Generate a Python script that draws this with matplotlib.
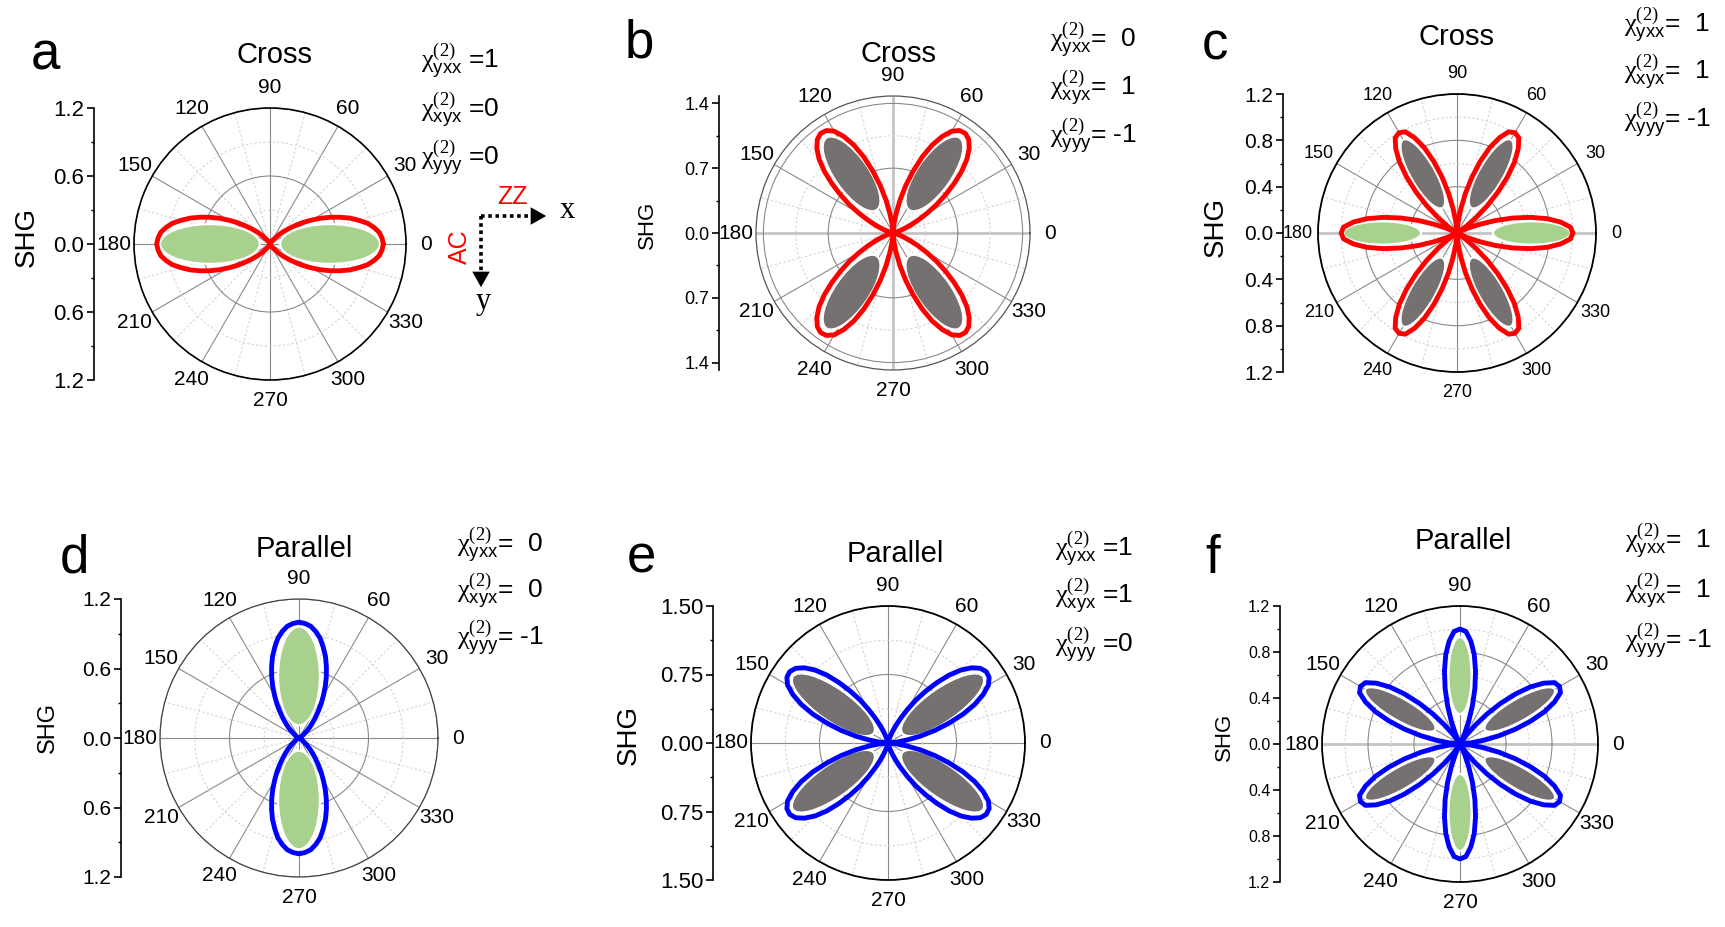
import numpy as np
import matplotlib
matplotlib.use("Agg")
import matplotlib.pyplot as plt
from matplotlib.patches import Ellipse, FancyArrowPatch
from matplotlib.lines import Line2D
from matplotlib.transforms import Affine2D

plt.rcParams['font.family'] = ['Liberation Sans', 'DejaVu Sans']
plt.rcParams['mathtext.fontset'] = 'custom'
plt.rcParams['mathtext.rm'] = 'Liberation Serif'
plt.rcParams['mathtext.it'] = 'Liberation Serif:italic'
plt.rcParams['mathtext.sf'] = 'Liberation Sans'
plt.rcParams['mathtext.bf'] = 'Liberation Serif:bold'

# ------------------------------------------------------------------ data
ANGLE_DEG = np.arange(0, 361, 3)          # polarization angle samples (deg)
THETA_TICKS = [0, 30, 60, 90, 120, 150, 180, 210, 240, 270, 300, 330]
THETA_LABELS = ['0', '30', '60', '90', '120', '150', '180', '210', '240', '270', '300', '330']
THETA_MINOR = [15, 45, 75, 105, 135, 165, 195, 225, 255, 285, 315, 345]

# SHG intensity read at every 3 degrees (0..360)
SHG_A = [1.00, 0.99, 0.97, 0.93, 0.88, 0.81, 0.74, 0.66, 0.58, 0.50, 0.42, 0.35, 0.28, 0.22, 0.17, 0.13,
         0.09, 0.06, 0.04, 0.03, 0.02, 0.01, 0.01, 0.00, 0.00, 0.00, 0.00, 0.00, 0.00, 0.00, 0.00,
         0.00, 0.00, 0.00, 0.00, 0.00, 0.00, 0.00, 0.01, 0.01, 0.02, 0.03, 0.04, 0.06, 0.09, 0.13,
         0.17, 0.22, 0.28, 0.35, 0.42, 0.50, 0.58, 0.66, 0.74, 0.81, 0.88, 0.93, 0.97, 0.99, 1.00,
         0.99, 0.97, 0.93, 0.88, 0.81, 0.74, 0.66, 0.58, 0.50, 0.42, 0.35, 0.28, 0.22, 0.17, 0.13,
         0.09, 0.06, 0.04, 0.03, 0.02, 0.01, 0.01, 0.00, 0.00, 0.00, 0.00, 0.00, 0.00, 0.00, 0.00,
         0.00, 0.00, 0.00, 0.00, 0.00, 0.00, 0.00, 0.01, 0.01, 0.02, 0.03, 0.04, 0.06, 0.09, 0.13,
         0.17, 0.22, 0.28, 0.35, 0.42, 0.50, 0.58, 0.66, 0.74, 0.81, 0.88, 0.93, 0.97, 0.99, 1.00]

SHG_B = [0.00, 0.00, 0.00, 0.01, 0.02, 0.04, 0.07, 0.13, 0.21, 0.30, 0.42, 0.56, 0.70, 0.85, 1.00, 1.13,
         1.23, 1.30, 1.33, 1.32, 1.27, 1.17, 1.04, 0.88, 0.70, 0.53, 0.36, 0.21, 0.10, 0.03, 0.00,
         0.03, 0.10, 0.21, 0.36, 0.53, 0.70, 0.88, 1.04, 1.17, 1.27, 1.32, 1.33, 1.30, 1.23, 1.13,
         1.00, 0.85, 0.70, 0.56, 0.42, 0.30, 0.21, 0.13, 0.07, 0.04, 0.02, 0.01, 0.00, 0.00, 0.00,
         0.00, 0.00, 0.01, 0.02, 0.04, 0.07, 0.13, 0.21, 0.30, 0.42, 0.56, 0.70, 0.85, 1.00, 1.13,
         1.23, 1.30, 1.33, 1.32, 1.27, 1.17, 1.04, 0.88, 0.70, 0.53, 0.36, 0.21, 0.10, 0.03, 0.00,
         0.03, 0.10, 0.21, 0.36, 0.53, 0.70, 0.88, 1.04, 1.17, 1.27, 1.32, 1.33, 1.30, 1.23, 1.13,
         1.00, 0.85, 0.70, 0.56, 0.42, 0.30, 0.21, 0.13, 0.07, 0.04, 0.02, 0.01, 0.00, 0.00, 0.00]

SHG_C = [1.00, 0.98, 0.90, 0.79, 0.65, 0.50, 0.35, 0.21, 0.10, 0.02, 0.00, 0.02, 0.10, 0.21, 0.35, 0.50, 0.65, 0.79, 0.90, 0.98,
         1.00, 0.98, 0.90, 0.79, 0.65, 0.50, 0.35, 0.21, 0.10, 0.02, 0.00, 0.02, 0.10, 0.21, 0.35, 0.50, 0.65, 0.79, 0.90, 0.98,
         1.00, 0.98, 0.90, 0.79, 0.65, 0.50, 0.35, 0.21, 0.10, 0.02, 0.00, 0.02, 0.10, 0.21, 0.35, 0.50, 0.65, 0.79, 0.90, 0.98,
         1.00, 0.98, 0.90, 0.79, 0.65, 0.50, 0.35, 0.21, 0.10, 0.02, 0.00, 0.02, 0.10, 0.21, 0.35, 0.50, 0.65, 0.79, 0.90, 0.98,
         1.00, 0.98, 0.90, 0.79, 0.65, 0.50, 0.35, 0.21, 0.10, 0.02, 0.00, 0.02, 0.10, 0.21, 0.35, 0.50, 0.65, 0.79, 0.90, 0.98,
         1.00, 0.98, 0.90, 0.79, 0.65, 0.50, 0.35, 0.21, 0.10, 0.02, 0.00, 0.02, 0.10, 0.21, 0.35, 0.50, 0.65, 0.79, 0.90, 0.98,
         1.00]

SHG_D = [0.00, 0.00, 0.00, 0.00, 0.00, 0.00, 0.00, 0.00, 0.01, 0.01, 0.02, 0.03, 0.04, 0.06, 0.09, 0.13,
         0.17, 0.22, 0.28, 0.35, 0.42, 0.50, 0.58, 0.66, 0.74, 0.81, 0.88, 0.93, 0.97, 0.99, 1.00,
         0.99, 0.97, 0.93, 0.88, 0.81, 0.74, 0.66, 0.58, 0.50, 0.42, 0.35, 0.28, 0.22, 0.17, 0.13,
         0.09, 0.06, 0.04, 0.03, 0.02, 0.01, 0.01, 0.00, 0.00, 0.00, 0.00, 0.00, 0.00, 0.00, 0.00,
         0.00, 0.00, 0.00, 0.00, 0.00, 0.00, 0.00, 0.01, 0.01, 0.02, 0.03, 0.04, 0.06, 0.09, 0.13,
         0.17, 0.22, 0.28, 0.35, 0.42, 0.50, 0.58, 0.66, 0.74, 0.81, 0.88, 0.93, 0.97, 0.99, 1.00,
         0.99, 0.97, 0.93, 0.88, 0.81, 0.74, 0.66, 0.58, 0.50, 0.42, 0.35, 0.28, 0.22, 0.17, 0.13,
         0.09, 0.06, 0.04, 0.03, 0.02, 0.01, 0.01, 0.00, 0.00, 0.00, 0.00, 0.00, 0.00, 0.00, 0.00]

SHG_E = [0.00, 0.03, 0.10, 0.21, 0.36, 0.53, 0.70, 0.88, 1.04, 1.17, 1.27, 1.32, 1.33, 1.30, 1.23, 1.13,
         1.00, 0.85, 0.70, 0.56, 0.42, 0.30, 0.21, 0.13, 0.07, 0.04, 0.02, 0.01, 0.00, 0.00, 0.00,
         0.00, 0.00, 0.01, 0.02, 0.04, 0.07, 0.13, 0.21, 0.30, 0.42, 0.56, 0.70, 0.85, 1.00, 1.13,
         1.23, 1.30, 1.33, 1.32, 1.27, 1.17, 1.04, 0.88, 0.70, 0.53, 0.36, 0.21, 0.10, 0.03, 0.00,
         0.03, 0.10, 0.21, 0.36, 0.53, 0.70, 0.88, 1.04, 1.17, 1.27, 1.32, 1.33, 1.30, 1.23, 1.13,
         1.00, 0.85, 0.70, 0.56, 0.42, 0.30, 0.21, 0.13, 0.07, 0.04, 0.02, 0.01, 0.00, 0.00, 0.00,
         0.00, 0.00, 0.01, 0.02, 0.04, 0.07, 0.13, 0.21, 0.30, 0.42, 0.56, 0.70, 0.85, 1.00, 1.13,
         1.23, 1.30, 1.33, 1.32, 1.27, 1.17, 1.04, 0.88, 0.70, 0.53, 0.36, 0.21, 0.10, 0.03, 0.00]

SHG_F = [0.00, 0.02, 0.10, 0.21, 0.35, 0.50, 0.65, 0.79, 0.90, 0.98, 1.00, 0.98, 0.90, 0.79, 0.65, 0.50, 0.35, 0.21, 0.10, 0.02,
         0.00, 0.02, 0.10, 0.21, 0.35, 0.50, 0.65, 0.79, 0.90, 0.98, 1.00, 0.98, 0.90, 0.79, 0.65, 0.50, 0.35, 0.21, 0.10, 0.02,
         0.00, 0.02, 0.10, 0.21, 0.35, 0.50, 0.65, 0.79, 0.90, 0.98, 1.00, 0.98, 0.90, 0.79, 0.65, 0.50, 0.35, 0.21, 0.10, 0.02,
         0.00, 0.02, 0.10, 0.21, 0.35, 0.50, 0.65, 0.79, 0.90, 0.98, 1.00, 0.98, 0.90, 0.79, 0.65, 0.50, 0.35, 0.21, 0.10, 0.02,
         0.00, 0.02, 0.10, 0.21, 0.35, 0.50, 0.65, 0.79, 0.90, 0.98, 1.00, 0.98, 0.90, 0.79, 0.65, 0.50, 0.35, 0.21, 0.10, 0.02,
         0.00, 0.02, 0.10, 0.21, 0.35, 0.50, 0.65, 0.79, 0.90, 0.98, 1.00, 0.98, 0.90, 0.79, 0.65, 0.50, 0.35, 0.21, 0.10, 0.02,
         0.00]

# measured lobes (shaded): lobe direction (deg) and (centre distance, length, width)
FILL_A_ANG, FILL_A = [0, 180], (0.53, 0.88, 0.35)
FILL_B_ANG, FILL_B = [55, 125, 235, 305], (0.78, 0.95, 0.37)
FILL_C_GREEN_ANG, FILL_C_GREEN = [0, 180], (0.645, 0.67, 0.20)
FILL_C_GREY_ANG, FILL_C_GREY = [60, 120, 240, 300], (0.59, 0.68, 0.21)
FILL_D_ANG, FILL_D = [90, 270], (0.535, 0.85, 0.36)
FILL_E_ANG, FILL_E = [35, 145, 215, 325], (0.73, 1.08, 0.36)
FILL_F_GREEN_ANG, FILL_F_GREEN = [90, 270], (0.595, 0.67, 0.20)
FILL_F_GREY_ANG, FILL_F_GREY = [30, 150, 210, 330], (0.60, 0.70, 0.19)

TICKS_06 = [-1.2, -0.6, 0.0, 0.6, 1.2]
TICKLABELS_06 = ['1.2', '0.6', '0.0', '0.6', '1.2']
TICKS_07 = [-1.4, -0.7, 0.0, 0.7, 1.4]
TICKLABELS_07 = ['1.4', '0.7', '0.0', '0.7', '1.4']
TICKS_04 = [-1.2, -0.8, -0.4, 0.0, 0.4, 0.8, 1.2]
TICKLABELS_04 = ['1.2', '0.8', '0.4', '0.0', '0.4', '0.8', '1.2']
TICKS_075 = [-1.5, -0.75, 0.0, 0.75, 1.5]
TICKLABELS_075 = ['1.50', '0.75', '0.00', '0.75', '1.50']

CHI_SYMBOLS = [r'$\mathrm{\chi}^{\mathrm{(2)}}_{\mathsf{yxx}}$',
               r'$\mathrm{\chi}^{\mathrm{(2)}}_{\mathsf{xyx}}$',
               r'$\mathrm{\chi}^{\mathrm{(2)}}_{\mathsf{yyy}}$']
CHI_A = [' =1', ' =0', ' =0']
CHI_B = ['=  0', '=  1', '= -1']
CHI_C = ['=  1', '=  1', '= -1']
CHI_D = ['=  0', '=  0', '= -1']
CHI_E = [' =1', ' =1', ' =0']
CHI_F = ['=  1', '=  1', '= -1']

GREEN = '#a9d18e'
GREY = '#767171'
RED = '#ff0000'
BLUE = '#0000ff'

# ------------------------------------------------------------------ layout
W, H = 1725, 927
fig = plt.figure(figsize=(W / 100, H / 100), dpi=100)
PX = Affine2D().scale(1.0 / W, -1.0 / H).translate(0, 1) + fig.transFigure


def ftext(x, y, s, **kw):
    fig.text(x, y, s, transform=PX, **kw)


PANELS = [
    dict(letter='a', letter_xy=(31, 70), title='Cross', title_xy=(275, 63),
         center=(270, 244), R=136, rmax=1.2, rmajor=[0.6, 1.2], rminor=[0.3, 0.9],
         ticks=TICKS_06, ticklabels=TICKLABELS_06, tminor=[-0.9, -0.3, 0.3, 0.9],
         axis_x=94, tick_fs=16, theta_fs=15, shg_xy=(27, 237), shg_fs=20,
         chi_x=421, chi_y=[68, 117, 165], chi=CHI_A, r=SHG_A, color=RED,
         fills=[(FILL_A_ANG, FILL_A, GREEN)], spine=('black', 1.2), light=[]),
    dict(letter='b', letter_xy=(625, 58), title='Cross', title_xy=(898, 62),
         center=(893, 233), R=137, rmax=1.48, rmajor=[0.7, 1.4], rminor=[0.35, 1.05],
         ticks=TICKS_07, ticklabels=TICKLABELS_07, tminor=[-1.05, -0.35, 0.35, 1.05],
         axis_x=719, tick_fs=13, theta_fs=15, shg_xy=(647, 225), shg_fs=16,
         chi_x=1050, chi_y=[47, 95, 143], chi=CHI_B, r=SHG_B, color=RED,
         fills=[(FILL_B_ANG, FILL_B, GREY)], spine=('#555555', 0.9), light=[0, 90, 180, 270]),
    dict(letter='c', letter_xy=(1202, 60), title='Cross', title_xy=(1456, 45),
         center=(1457, 233), R=139, rmax=1.2, rmajor=[0.4, 0.8, 1.2], rminor=[0.2, 0.6, 1.0],
         ticks=TICKS_04, ticklabels=TICKLABELS_04, tminor=[-1.0, -0.6, -0.2, 0.2, 0.6, 1.0],
         axis_x=1283, tick_fs=15, theta_fs=13, shg_xy=(1216, 227), shg_fs=20,
         chi_x=1624, chi_y=[32, 79, 127], chi=CHI_C, r=SHG_C, color=RED,
         fills=[(FILL_C_GREEN_ANG, FILL_C_GREEN, GREEN), (FILL_C_GREY_ANG, FILL_C_GREY, GREY)],
         spine=('black', 1.3), light=[0, 180]),
    dict(letter='d', letter_xy=(60, 573), title='Parallel', title_xy=(304, 557),
         center=(299, 738), R=139, rmax=1.2, rmajor=[0.6, 1.2], rminor=[0.3, 0.9],
         ticks=TICKS_06, ticklabels=TICKLABELS_06, tminor=[-0.9, -0.3, 0.3, 0.9],
         axis_x=121, tick_fs=15, theta_fs=15, shg_xy=(48, 728), shg_fs=17,
         chi_x=457, chi_y=[552, 598, 645], chi=CHI_D, r=SHG_D, color=BLUE,
         fills=[(FILL_D_ANG, FILL_D, GREEN)], spine=('#444444', 0.9), light=[]),
    dict(letter='e', letter_xy=(627, 573), title='Parallel', title_xy=(895, 562),
         center=(888, 743), R=137, rmax=1.5, rmajor=[0.75, 1.5], rminor=[0.375, 1.125],
         ticks=TICKS_075, ticklabels=TICKLABELS_075, tminor=[-1.125, -0.375, 0.375, 1.125],
         axis_x=713, tick_fs=16, theta_fs=15, shg_xy=(629, 735), shg_fs=20,
         chi_x=1055, chi_y=[556, 603, 652], chi=CHI_E, r=SHG_E, color=BLUE,
         fills=[(FILL_E_ANG, FILL_E, GREY)], spine=('black', 1.3), light=[]),
    dict(letter='f', letter_xy=(1205, 573), title='Parallel', title_xy=(1463, 549),
         center=(1460, 744), R=138, rmax=1.2, rmajor=[0.4, 0.8, 1.2], rminor=[0.2, 0.6, 1.0],
         ticks=TICKS_04, ticklabels=TICKLABELS_04, tminor=[-1.0, -0.6, -0.2, 0.2, 0.6, 1.0],
         axis_x=1280, tick_fs=11.5, theta_fs=15, shg_xy=(1224, 737), shg_fs=16,
         chi_x=1625, chi_y=[548, 598, 648], chi=CHI_F, r=SHG_F, color=BLUE,
         fills=[(FILL_F_GREEN_ANG, FILL_F_GREEN, GREEN), (FILL_F_GREY_ANG, FILL_F_GREY, GREY)],
         spine=('black', 1.3), light=[0, 180]),
]


def draw_panel(p):
    cx, cy = p['center']
    R = p['R']
    rmax = p['rmax']
    ax = fig.add_axes([(cx - R) / W, 1 - (cy + R) / H, 2 * R / W, 2 * R / H], projection='polar')
    ax.set_ylim(0, rmax)
    ax.set_xticks(np.deg2rad(THETA_TICKS), THETA_LABELS)
    ax.set_xticks(np.deg2rad(THETA_MINOR), minor=True)
    ax.set_yticks(p['rmajor'])
    ax.set_yticks(p['rminor'], minor=True)
    ax.set_yticklabels([])
    ax.tick_params(axis='x', which='major', labelsize=p['theta_fs'], pad=7.6, length=0)
    ax.tick_params(axis='both', which='minor', length=0)
    ax.tick_params(axis='y', which='major', length=0)
    ax.xaxis.grid(True, which='major', color='#8a8a8a', lw=0.8, ls='-')
    ax.xaxis.grid(True, which='minor', color='#d4d4d4', lw=0.8, ls=(0, (2, 2)))
    ax.yaxis.grid(True, which='major', color='#8a8a8a', lw=0.8, ls='-')
    ax.yaxis.grid(True, which='minor', color='#d4d4d4', lw=0.8, ls=(0, (2, 2)))
    for tk, ang in zip(ax.xaxis.get_major_ticks(), THETA_TICKS):
        if ang in p['light']:
            tk.gridline.set_color('#c4c4c4')
            tk.gridline.set_linewidth(2.0)
    ax.spines['polar'].set_color(p['spine'][0])
    ax.spines['polar'].set_linewidth(p['spine'][1])

    cart = ax.transProjectionAffine + ax.transWedge + ax.transAxes
    for angs, (dist, length, width), col in p['fills']:
        for a in angs:
            t = np.deg2rad(a)
            ax.add_patch(Ellipse((dist * np.cos(t), dist * np.sin(t)), length, width, angle=a,
                                 transform=cart, facecolor=col, edgecolor='white', lw=1.5, zorder=3))
    ax.plot(np.deg2rad(ANGLE_DEG), p['r'], color=p['color'], lw=3.5, zorder=4,
            solid_joinstyle='round', solid_capstyle='round')

    # linear SHG scale bar on the left
    lax = fig.add_axes([p['axis_x'] / W, 1 - (cy + R) / H, 0.0005, 2 * R / H])
    lax.set_ylim(-rmax, rmax)
    lax.set_yticks(p['ticks'], p['ticklabels'])
    lax.set_yticks(p['tminor'], minor=True)
    lax.set_xticks([])
    lax.patch.set_visible(False)
    for s in ('top', 'right', 'bottom'):
        lax.spines[s].set_visible(False)
    lax.spines['left'].set_linewidth(1.2)
    lax.tick_params(axis='y', which='major', length=5, width=1.2, pad=2, labelsize=p['tick_fs'])
    lax.tick_params(axis='y', which='minor', length=2.5, width=1.0)

    ftext(*p['shg_xy'], 'SHG', rotation=90, ha='center', va='center', fontsize=p['shg_fs'])
    ftext(*p['letter_xy'], p['letter'], ha='left', va='baseline', fontsize=38)
    ftext(*p['title_xy'], p['title'], ha='center', va='baseline', fontsize=21)
    for sym, val, yy in zip(CHI_SYMBOLS, p['chi'], p['chi_y']):
        ftext(p['chi_x'], yy, sym + val, ha='left', va='baseline', fontsize=19)


for p in PANELS:
    draw_panel(p)

# crystal axes inset of panel a
fig.add_artist(Line2D([481, 538], [216, 216], transform=PX, color='black', lw=2.6,
                      ls=(0, (1, 1)), dash_capstyle='butt'))
fig.add_artist(Line2D([481, 481], [216, 278], transform=PX, color='black', lw=2.6,
                      ls=(0, (1, 1)), dash_capstyle='butt'))
fig.add_artist(FancyArrowPatch((534, 216), (549, 216), transform=PX, color='black', lw=0,
                               arrowstyle='-|>,head_length=0.8,head_width=0.45', mutation_scale=14))
fig.add_artist(FancyArrowPatch((481, 274), (481, 290), transform=PX, color='black', lw=0,
                               arrowstyle='-|>,head_length=0.8,head_width=0.45', mutation_scale=14))
ftext(512, 197, 'ZZ', color=RED, ha='center', va='center', fontsize=18)
ftext(460, 247, 'AC', color=RED, ha='center', va='center', fontsize=18, rotation=90)
ftext(567, 210, 'x', ha='center', va='center', fontsize=22, family='Liberation Serif')
ftext(483, 301, 'y', ha='center', va='center', fontsize=22, family='Liberation Serif')

fig.savefig('out.png', dpi=100)
